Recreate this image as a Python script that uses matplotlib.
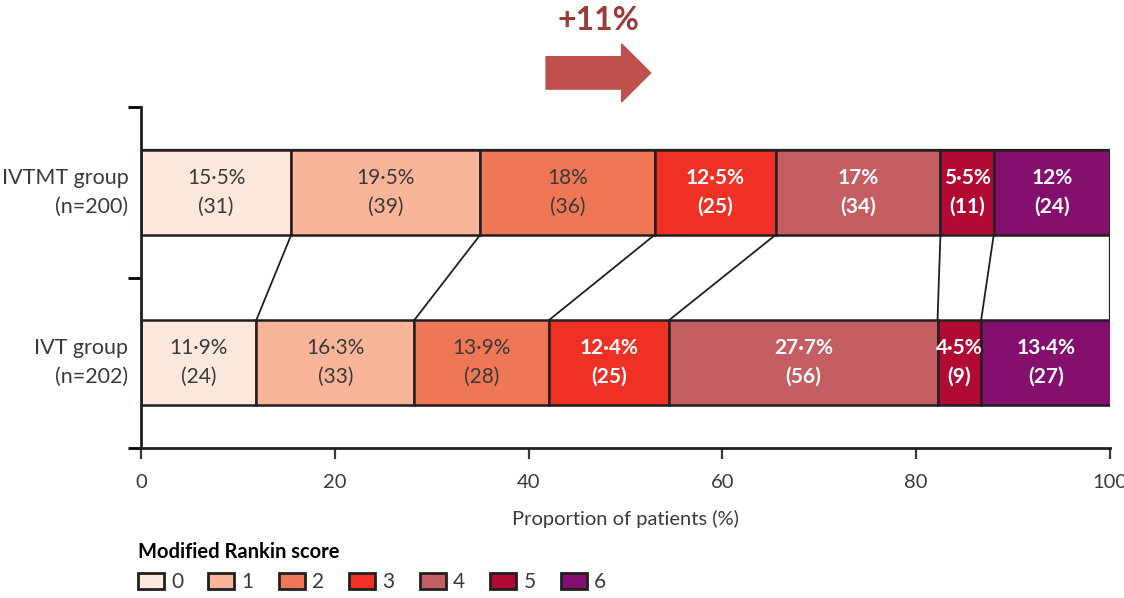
import matplotlib
matplotlib.use("Agg")
import matplotlib.pyplot as plt
from matplotlib.patches import Patch, FancyArrow, Rectangle
import numpy as np

plt.rcParams['font.family'] = ['Lato', 'DejaVu Sans']

groups = ["IVTMT group\n(n=200)", "IVT group\n(n=202)"]
scores = ["0", "1", "2", "3", "4", "5", "6"]
ivtmt_pct = [15.5, 19.5, 18, 12.5, 17, 5.5, 12]
ivtmt_n = [31, 39, 36, 25, 34, 11, 24]
ivt_pct = [11.9, 16.3, 13.9, 12.4, 27.7, 4.5, 13.4]
ivt_n = [24, 33, 28, 25, 56, 9, 27]
colors = ["#FDE8DE", "#F8B59A", "#F07756", "#EE3124", "#C55E62", "#B10A35", "#840F6E"]
text_colors = ["#3a3a3a"] * 3 + ["white"] * 4
shift_label = "+11%"

edge = "#231F20"
fig = plt.figure(figsize=(11.24, 5.98), dpi=100)
ax = fig.add_axes([141 / 1124, 1 - 448 / 598, (1110 - 141) / 1124, (448 - 107) / 598])

y_pos = [1.5, 0.5]
bar_h = 0.5

# outline of the gap between the two bars
ax.add_patch(Rectangle((0, 0.25), 100, 1.5, fill=False, edgecolor=edge, lw=1.6, zorder=1))

def fmt(v):
    s = f"{v:g}%"
    return s.replace(".", "\u00b7")

for y, pct, n in zip(y_pos, [ivtmt_pct, ivt_pct], [ivtmt_n, ivt_n]):
    left = 0
    for i, (p, k) in enumerate(zip(pct, n)):
        ax.barh(y, p, left=left, height=bar_h, color=colors[i], edgecolor=edge,
                linewidth=1.8, zorder=2)
        bold = i >= 3
        ax.text(left + p / 2, y, f"{fmt(p)}\n({k})", ha="center", va="center",
                fontsize=15, color=text_colors[i], linespacing=1.55,
                fontweight="bold" if bold else "normal", zorder=3)
        left += p

# connectors between cumulative boundaries
cum_top = np.cumsum(ivtmt_pct)[:-1]
cum_bot = np.cumsum(ivt_pct)[:-1]
for a, b in zip(cum_top, cum_bot):
    ax.plot([a, b], [y_pos[0] - bar_h / 2, y_pos[1] + bar_h / 2], color=edge, lw=1.3, zorder=1)

ax.set_xlim(0, 100)
ax.set_ylim(0, 2)
ax.set_yticks([0, 1, 2])
ax.set_yticklabels([])
for y, lab in zip(y_pos, groups):
    ax.text(-1.3, y, lab, ha="right", va="center", fontsize=15.5, color="#3a3a3a",
            linespacing=1.55, transform=ax.transData)
ax.set_xticks([0, 20, 40, 60, 80, 100])
ax.tick_params(axis="x", direction="out", length=8, width=1.6, labelsize=14.5,
               colors="#3a3a3a", pad=11)
ax.tick_params(axis="y", direction="out", length=9.5, width=2)
for s in ["top", "right"]:
    ax.spines[s].set_visible(False)
for s in ["left", "bottom"]:
    ax.spines[s].set_linewidth(2)
    ax.spines[s].set_color(edge)
ax.set_xlabel("Proportion of patients (%)", fontsize=14.5, color="#3a3a3a", labelpad=13)

# shift arrow
ax.add_patch(FancyArrow(41.8, 2.2, 10.8, 0, width=0.19, head_width=0.34,
                        head_length=3.0, length_includes_head=True,
                        color="#C0504D", clip_on=False, zorder=3))
ax.text(47.2, 2.51, shift_label, ha="center", va="center", fontsize=23,
        fontweight="bold", color="#9B3A37", clip_on=False)

handles = [Patch(facecolor=c, edgecolor=edge, linewidth=2) for c in colors]
leg = fig.legend(handles, scores, loc="lower left", bbox_to_anchor=(0.106, -0.022),
                 ncol=7, frameon=False, fontsize=15, title="Modified Rankin score",
                 title_fontproperties={"weight": "bold", "size": 14.5},
                 alignment="left", handlelength=1.25, handleheight=0.85,
                 handletextpad=0.35, columnspacing=1.2)
for t in leg.get_texts():
    t.set_color("#3a3a3a")

fig.savefig("out.png", dpi=100)
